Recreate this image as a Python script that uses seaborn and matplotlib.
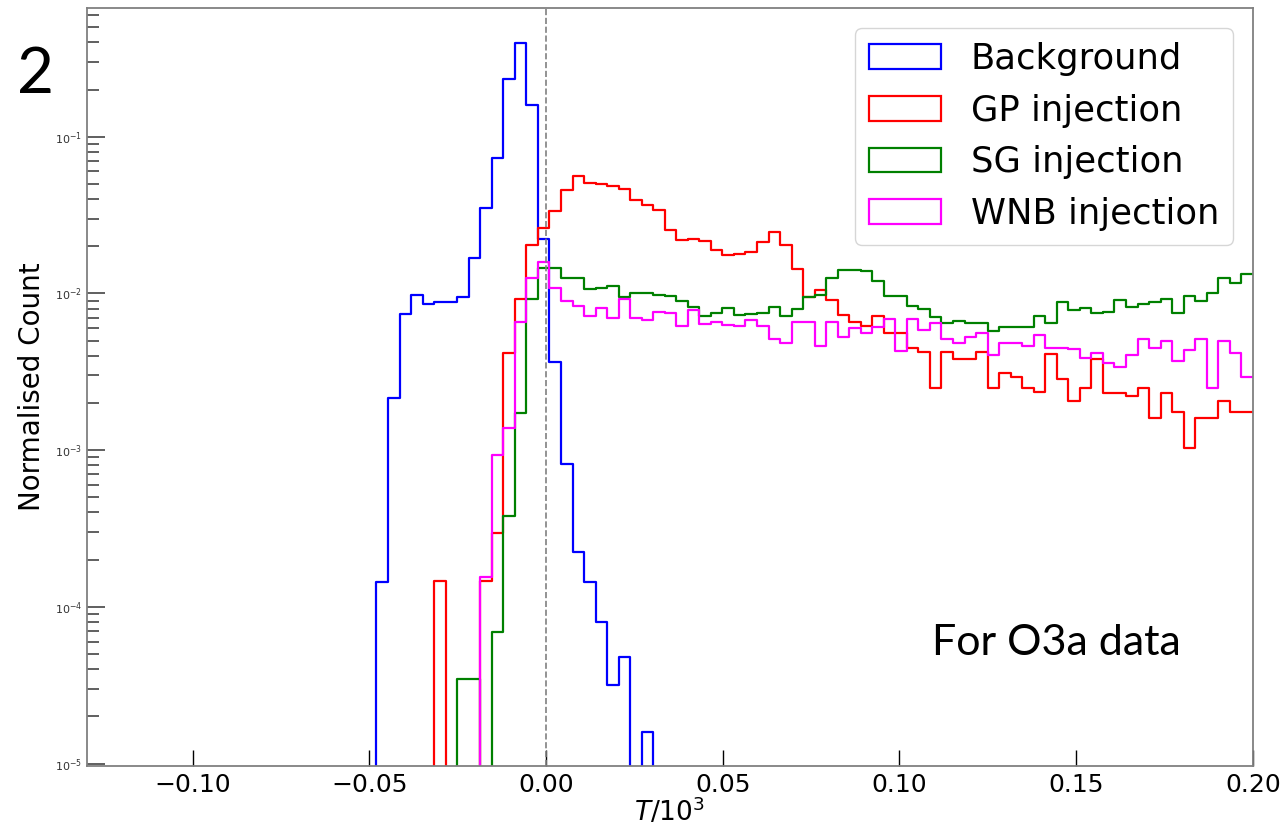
import numpy as np
import pandas as pd
import matplotlib
matplotlib.use("Agg")
import matplotlib.pyplot as plt
from matplotlib.patches import Patch
import seaborn as sns

# binning of T/10^3
bin_lo, bin_hi, n_bins = -0.048, 0.2, 76

background = [1.43e-4, 2.16e-3, 7.36e-3, 9.77e-3, 8.55e-3, 8.85e-3, 8.85e-3, 9.5e-3,
              1.67e-2, 3.49e-2, 7.35e-2, 0.233, 0.394, 0.159, 2.22e-2, 3.66e-3,
              8.1e-4, 2.25e-4, 1.43e-4, 8.04e-5, 3.17e-5, 4.79e-5, 0.0, 1.6e-5] + [0.0] * 52

gp = [0.0, 0.0, 0.0, 0.0, 0.0, 1.46e-4, 0.0, 0.0, 0.0, 1.47e-4,
      2.94e-4, 4.15e-3, 9.16e-3, 2.04e-2, 2.6e-2, 3.36e-2, 4.56e-2, 5.6e-2, 5.04e-2, 4.96e-2,
      4.84e-2, 4.61e-2, 3.94e-2, 3.66e-2, 3.40e-2, 2.54e-2, 2.19e-2, 2.22e-2, 2.16e-2, 1.89e-2,
      1.76e-2, 1.78e-2, 1.85e-2, 2.14e-2, 2.48e-2, 2.04e-2, 1.43e-2, 9.53e-3, 1.05e-2, 9.08e-3,
      7.28e-3, 6.6e-3, 6.19e-3, 7.18e-3, 5.56e-3, 5.56e-3, 4.51e-3, 4.25e-3, 2.48e-3, 4.25e-3,
      3.81e-3, 3.81e-3, 4.25e-3, 2.48e-3, 3.09e-3, 2.94e-3, 2.48e-3, 2.34e-3, 4.1e-3, 2.83e-3,
      2.06e-3, 2.5e-3, 3.81e-3, 2.32e-3, 2.32e-3, 2.21e-3, 2.5e-3, 1.61e-3, 2.32e-3, 1.76e-3,
      1.03e-3, 1.61e-3, 1.61e-3, 2.06e-3, 1.76e-3, 1.76e-3]

sg = [0.0, 0.0, 0.0, 0.0, 0.0, 0.0, 0.0, 3.44e-5, 3.44e-5, 0.0,
      6.94e-5, 3.78e-4, 1.72e-3, 9.16e-3, 1.45e-2, 1.45e-2, 1.25e-2, 1.25e-2, 1.06e-2, 1.09e-2,
      1.12e-2, 9.44e-3, 1.01e-2, 1.01e-2, 9.77e-3, 9.62e-3, 8.98e-3, 8.22e-3, 7.18e-3, 7.46e-3,
      8.04e-3, 7.28e-3, 7.35e-3, 7.46e-3, 8.15e-3, 7.21e-3, 7.91e-3, 9.53e-3, 9.77e-3, 1.25e-2,
      1.41e-2, 1.40e-2, 1.39e-2, 1.20e-2, 9.65e-3, 9.65e-3, 8.32e-3, 7.91e-3, 7.1e-3, 6.5e-3,
      6.7e-3, 6.45e-3, 6.45e-3, 5.78e-3, 6.14e-3, 6.08e-3, 6.08e-3, 7.18e-3, 6.5e-3, 8.85e-3,
      7.84e-3, 8.04e-3, 7.46e-3, 7.64e-3, 9.08e-3, 8.22e-3, 8.51e-3, 8.85e-3, 9.16e-3, 7.53e-3,
      9.68e-3, 8.98e-3, 1.01e-2, 1.25e-2, 1.17e-2, 1.33e-2]

wnb = [0.0, 0.0, 0.0, 0.0, 0.0, 0.0, 0.0, 0.0, 0.0, 1.56e-4,
       9.3e-4, 1.39e-3, 6.6e-3, 1.26e-2, 1.58e-2, 1.08e-2, 9.0e-3, 8.35e-3, 7.21e-3, 8.04e-3,
       6.93e-3, 9.16e-3, 6.93e-3, 6.76e-3, 7.64e-3, 7.53e-3, 6.22e-3, 7.84e-3, 6.35e-3, 6.6e-3,
       6.28e-3, 6.19e-3, 6.76e-3, 6.19e-3, 5.09e-3, 4.84e-3, 6.6e-3, 6.6e-3, 4.61e-3, 6.6e-3,
       5.25e-3, 6.04e-3, 5.61e-3, 6.14e-3, 6.87e-3, 4.31e-3, 6.87e-3, 5.84e-3, 6.5e-3, 5.09e-3,
       4.84e-3, 5.25e-3, 5.61e-3, 4.04e-3, 4.8e-3, 4.8e-3, 4.61e-3, 5.42e-3, 4.46e-3, 4.46e-3,
       4.4e-3, 3.85e-3, 4.19e-3, 3.58e-3, 3.41e-3, 4.04e-3, 5.12e-3, 4.46e-3, 4.99e-3, 3.72e-3,
       4.35e-3, 5.09e-3, 2.5e-3, 4.99e-3, 4.19e-3, 2.94e-3]

labels = ["Background", "GP injection", "SG injection", "WNB injection"]
colours = ["blue", "red", "green", "magenta"]
xticks = [-0.10, -0.05, 0.00, 0.05, 0.10, 0.15, 0.20]

sns.set_style("white")
plt.rcParams["font.family"] = ["DejaVu Sans"]
plt.rcParams["text.color"] = "black"
plt.rcParams["axes.labelcolor"] = "black"
plt.rcParams["xtick.color"] = "black"
plt.rcParams["ytick.color"] = "black"

fig = plt.figure(figsize=(12.81, 8.27), dpi=100)
ax = fig.add_axes([0.0677, 0.0741, 0.9103, 0.9159])

edges = np.linspace(bin_lo, bin_hi, n_bins + 1)
width = edges[1] - edges[0]
# one empty bin in front so each outline rises from the floor
edges = np.concatenate([[bin_lo - width], edges])
centres = (edges[:-1] + edges[1:]) / 2

for vals, lab, col in zip([background, gp, sg, wnb], labels, colours):
    df = pd.DataFrame({"T": centres, "count": np.concatenate([[0.0], vals])})
    sns.histplot(data=df, x="T", weights="count", bins=list(edges), element="step",
                 fill=False, color=col, linewidth=1.6, ax=ax)

ax.axvline(0.0, color="grey", ls="--", lw=1.2)

ax.set_yscale("log")
ax.set_ylim(9.68e-6, 0.66)
ax.set_xlim(-0.13, 0.20)
ax.set_xticks(xticks)
ax.set_xticklabels([f"{t:.2f}".replace("-", "\u2212") for t in xticks])

ax.tick_params(axis="x", which="major", direction="in", length=11.5, width=1,
               labelsize=18, pad=5, bottom=True, top=False, color="black",
               labelcolor="black")
ax.tick_params(axis="x", which="minor", bottom=False, top=False)
ax.tick_params(axis="y", which="major", direction="in", length=12.7, width=1.2,
               labelsize=8, labelcolor="#333333", left=True, right=False, color="#444444")
ax.tick_params(axis="y", which="minor", direction="in", length=8.6, width=1.2,
               left=True, right=False, color="#444444")

for s in ax.spines.values():
    s.set_color("grey")
    s.set_linewidth(1.3)

ax.set_xlabel("$T/10^3$", fontsize=19, labelpad=0)
ax.set_ylabel("Normalised Count", fontsize=20, labelpad=6)

handles = [Patch(facecolor="none", edgecolor=c, linewidth=1.6) for c in colours]
ax.legend(handles, labels, loc="upper right", fontsize=25.5, labelspacing=0.5,
          handlelength=2.05, handletextpad=0.83, borderaxespad=0.55)

fig.text(0.0133, 0.8876, "2", fontsize=46, family=["Lato", "DejaVu Sans"],
         ha="left", va="baseline", color="black")
fig.text(0.7273, 0.208, "For O3a data", fontsize=31, family=["Lato", "DejaVu Sans"],
         ha="left", va="baseline", color="black")

fig.savefig("out.png", dpi=100)
